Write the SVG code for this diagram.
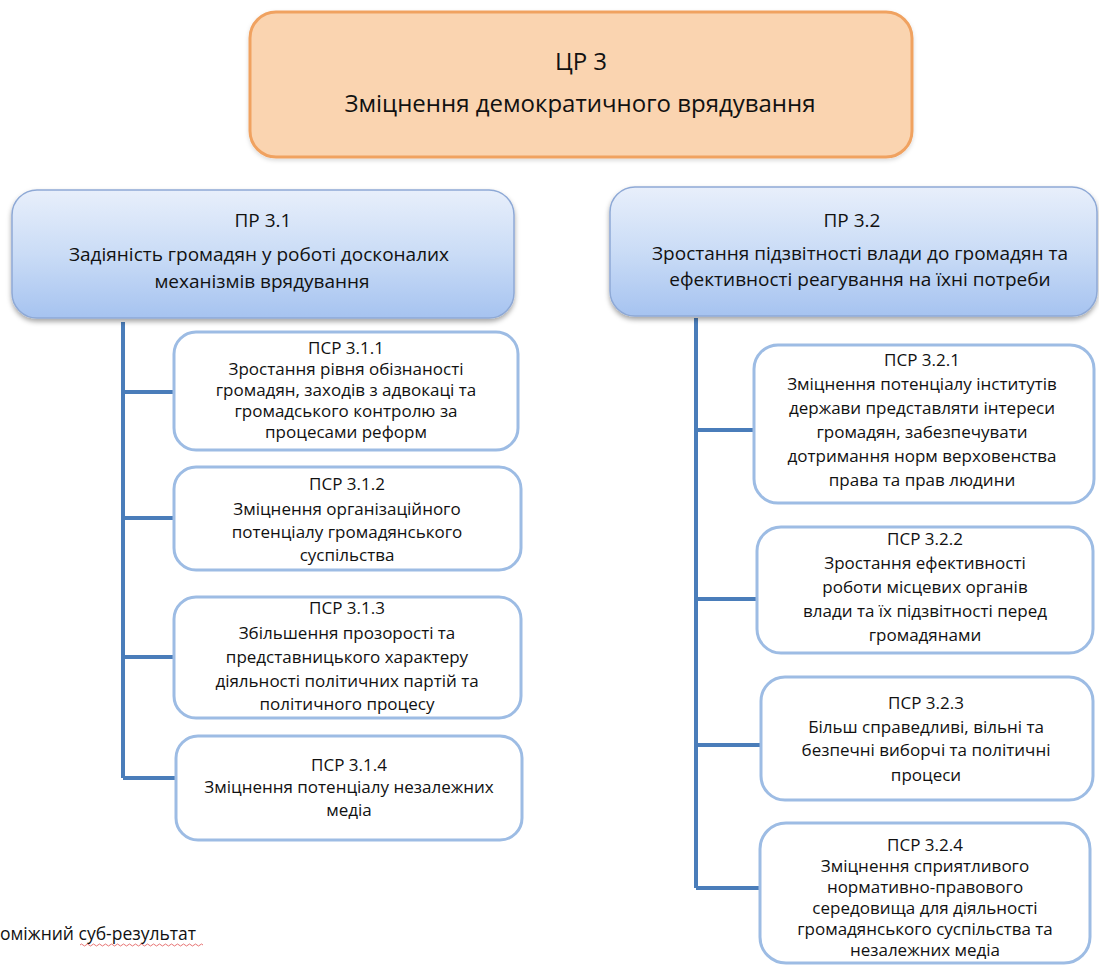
<svg xmlns="http://www.w3.org/2000/svg" width="1099" height="965" viewBox="0 0 1099 965">
<defs>
<linearGradient id="gBlue" x1="0" y1="0" x2="0" y2="1">
<stop offset="0" stop-color="#E8EFFB"/>
<stop offset="0.5" stop-color="#CADCF6"/>
<stop offset="1" stop-color="#A6C3F0"/>
</linearGradient>
<filter id="shadow" x="-5%" y="-5%" width="110%" height="120%">
<feDropShadow dx="0" dy="3" stdDeviation="2.5" flood-color="#000" flood-opacity="0.35"/>
</filter>
<filter id="shadowSoft" x="-5%" y="-5%" width="110%" height="120%">
<feDropShadow dx="0" dy="2" stdDeviation="2" flood-color="#000" flood-opacity="0.15"/>
</filter>
</defs>
<style>
text{font-family:"Open Sans","Noto Sans","DejaVu Sans",sans-serif;fill:#111111;text-anchor:middle}
.top{fill:#FAD4B0;stroke:#F0A261;stroke-width:3}
.pr{fill:url(#gBlue);stroke:#8EA9D6;stroke-width:1.5}
.sub{fill:#FFFFFF;stroke:#9DBCE4;stroke-width:3}
.t1{font-size:24px}
.t2{font-size:19px}
.t3{font-size:17px}
.con{stroke:#4A7DBA;stroke-width:4;fill:none}
.note{font-size:17.5px;text-anchor:start}
</style>
<rect width="1099" height="965" fill="#FFFFFF"/>

<g id="connectors">
<path class="con" d="M123 322 V778 M124 392 H174 M124 518 H174 M124 657 H174 M123 778 H176"/>
<path class="con" d="M696 318 V888 M697 430 H754 M697 599 H757 M697 745 H761 M696 888 H760"/>
</g>

<g id="cr3">
<rect class="top" x="250" y="12" width="662" height="145" rx="26" filter="url(#shadowSoft)"/>
<text class="t1" x="581" y="70">ЦР 3</text>
<text class="t1" x="580" y="112">Зміцнення демократичного врядування</text>
</g>

<g id="pr31">
<rect class="pr" x="12" y="190" width="502" height="128" rx="25" filter="url(#shadow)"/>
<text class="t2" x="263" y="227">ПР 3.1</text>
<text class="t2" x="259" y="261">Задіяність громадян у роботі досконалих</text>
<text class="t2" x="262" y="288">механізмів врядування</text>
</g>

<g id="pr32">
<rect class="pr" x="610" y="187" width="487" height="129" rx="25" filter="url(#shadow)"/>
<text class="t2" x="852" y="227">ПР 3.2</text>
<text class="t2" x="860" y="260">Зростання підзвітності влади до громадян та</text>
<text class="t2" x="860" y="286">ефективності реагування на їхні потреби</text>
</g>

<g id="psr311">
<rect class="sub" x="174" y="332" width="344" height="118" rx="22"/>
<text class="t3" x="346" y="354">ПСР 3.1.1</text>
<text class="t3" x="346" y="375">Зростання рівня обізнаності</text>
<text class="t3" x="346" y="396">громадян, заходів з адвокаці та</text>
<text class="t3" x="346" y="417">громадського контролю за</text>
<text class="t3" x="346" y="438">процесами реформ</text>
</g>

<g id="psr312">
<rect class="sub" x="174" y="467" width="347" height="103" rx="22"/>
<text class="t3" x="347" y="490">ПСР 3.1.2</text>
<text class="t3" x="347" y="515">Зміцнення організаційного</text>
<text class="t3" x="347" y="538">потенціалу громадянського</text>
<text class="t3" x="347" y="561">суспільства</text>
</g>

<g id="psr313">
<rect class="sub" x="174" y="597" width="347" height="121" rx="22"/>
<text class="t3" x="347" y="614">ПСР 3.1.3</text>
<text class="t3" x="347" y="639">Збільшення прозорості та</text>
<text class="t3" x="347" y="663">представницького характеру</text>
<text class="t3" x="347" y="687">діяльності політичних партій та</text>
<text class="t3" x="347" y="710">політичного процесу</text>
</g>

<g id="psr314">
<rect class="sub" x="176" y="736" width="346" height="104" rx="22"/>
<text class="t3" x="349" y="771">ПСР 3.1.4</text>
<text class="t3" x="349" y="793">Зміцнення потенціалу незалежних</text>
<text class="t3" x="349" y="816">медіа</text>
</g>

<g id="psr321">
<rect class="sub" x="754" y="345" width="340" height="158" rx="24"/>
<text class="t3" x="922" y="366">ПСР 3.2.1</text>
<text class="t3" x="922" y="390">Зміцнення потенціалу інститутів</text>
<text class="t3" x="922" y="414">держави представляти інтереси</text>
<text class="t3" x="922" y="438">громадян, забезпечувати</text>
<text class="t3" x="922" y="462">дотримання норм верховенства</text>
<text class="t3" x="922" y="486">права та прав людини</text>
</g>

<g id="psr322">
<rect class="sub" x="757" y="527" width="336" height="126" rx="24"/>
<text class="t3" x="925" y="545">ПСР 3.2.2</text>
<text class="t3" x="925" y="569">Зростання ефективності</text>
<text class="t3" x="925" y="593">роботи місцевих органів</text>
<text class="t3" x="925" y="617">влади та їх підзвітності перед</text>
<text class="t3" x="925" y="641">громадянами</text>
</g>

<g id="psr323">
<rect class="sub" x="761" y="677" width="332" height="123" rx="24"/>
<text class="t3" x="926" y="709">ПСР 3.2.3</text>
<text class="t3" x="926" y="733">Більш справедливі, вільні та</text>
<text class="t3" x="926" y="756">безпечні виборчі та політичні</text>
<text class="t3" x="926" y="781">процеси</text>
</g>

<g id="psr324">
<rect class="sub" x="760" y="823" width="330" height="140" rx="26"/>
<text class="t3" x="925" y="851">ПСР 3.2.4</text>
<text class="t3" x="925" y="872">Зміцнення сприятливого</text>
<text class="t3" x="925" y="893">нормативно-правового</text>
<text class="t3" x="925" y="914">середовища для діяльності</text>
<text class="t3" x="925" y="935">громадянського суспільства та</text>
<text class="t3" x="925" y="956">незалежних медіа</text>
</g>

<g id="note">
<text class="note" x="0" y="940">оміжний суб-результат</text>
<path d="M80 945 q1.5 -2 3 0 t3 0 t3 0 t3 0 t3 0 t3 0 t3 0 t3 0 t3 0 t3 0 t3 0 t3 0 t3 0 t3 0 t3 0 t3 0 t3 0 t3 0 t3 0 t3 0 t3 0 t3 0 t3 0 t3 0 t3 0 t3 0 t3 0 t3 0 t3 0 t3 0 t3 0 t3 0 t3 0 t3 0 t3 0 t3 0 t3 0 t3 0 t3 0 t3 0 t3 0" fill="none" stroke="#E05050" stroke-width="0.8"/>
</g>
</svg>
